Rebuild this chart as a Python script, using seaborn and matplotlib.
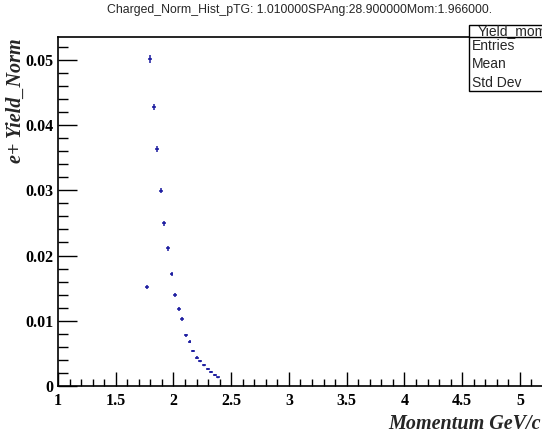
import numpy as np
import pandas as pd
import matplotlib
matplotlib.use("Agg")
import matplotlib.pyplot as plt
import seaborn as sns
from matplotlib.ticker import MultipleLocator
from matplotlib.patches import Rectangle
from matplotlib.lines import Line2D

# --- data ---
momentum = [1.768, 1.797, 1.829, 1.860, 1.892, 1.920, 1.952, 1.984, 2.016, 2.048,
            2.076, 2.108, 2.140, 2.169, 2.201, 2.232, 2.264, 2.296, 2.325, 2.357, 2.385]
yield_norm = [0.01514, 0.05015, 0.04279, 0.03630, 0.02995, 0.02495, 0.02112, 0.01718,
              0.01400, 0.01186, 0.01032, 0.00778, 0.00679, 0.00537, 0.00434, 0.00379,
              0.00317, 0.00261, 0.00215, 0.00169, 0.00133]
yield_err = [0.00030, 0.00065, 0.00050, 0.00045, 0.00042, 0.00040, 0.00038, 0.00035,
             0.00033, 0.00031, 0.00029, 0.00025, 0.00023, 0.00021, 0.00019, 0.00017,
             0.00016, 0.00014, 0.00013, 0.00012, 0.00010]
bin_half = 0.016

title_text = "Charged_Norm_Hist_pTG: 1.010000SPAng:28.900000Mom:1.966000."
stats_name = "Yield_mom"
stats_rows = ["Entries", "Mean", "Std Dev"]

df = pd.DataFrame({"mom": momentum, "y": yield_norm, "err": yield_err})

sns.set_style("white")
plt.rcParams["font.family"] = ["Liberation Serif", "DejaVu Serif"]

fig = plt.figure(figsize=(5.42, 4.37), dpi=100)
ax = fig.add_axes([58 / 542, 1 - 386 / 437, 485 / 542, (386 - 37) / 437])

col = "#1c1ca0"
ax.errorbar(df["mom"], df["y"], xerr=bin_half, yerr=df["err"], fmt="none",
            ecolor=col, elinewidth=1.1, capsize=0)
sns.scatterplot(data=df, x="mom", y="y", ax=ax, color=col, s=2, marker="o",
                edgecolor="none", legend=False)

ax.set_xlim(1, 5.2)
ax.set_ylim(0, 0.0535)
ax.xaxis.set_minor_locator(MultipleLocator(0.1))
ax.yaxis.set_minor_locator(MultipleLocator(0.002))
ax.tick_params(which="both", direction="in", bottom=True, left=True,
               top=False, right=False, colors="black")
ax.tick_params(axis="x", which="major", length=10, width=1, pad=5)
ax.tick_params(axis="x", which="minor", length=5, width=1)
ax.tick_params(axis="y", which="major", length=14, width=1, pad=3)
ax.tick_params(axis="y", which="minor", length=7, width=1)

ax.set_xticks([1, 1.5, 2, 2.5, 3, 3.5, 4, 4.5, 5])
ax.set_xticklabels(["1", "1.5", "2", "2.5", "3", "3.5", "4", "4.5", "5"])
ax.set_yticks([0, 0.01, 0.02, 0.03, 0.04, 0.05])
ax.set_yticklabels(["0", "0.01", "0.02", "0.03", "0.04", "0.05"])
for lab in ax.get_xticklabels() + ax.get_yticklabels():
    lab.set_fontweight("bold")
    lab.set_fontsize(11.5)

for sp in ax.spines.values():
    sp.set_color("black")
    sp.set_linewidth(1.2)

ax.set_xlabel("")
ax.set_ylabel("")
fig.text(541 / 542, 1 - 424 / 437, "Momentum GeV/c", ha="right", va="center",
         fontsize=14.5, fontweight="bold", fontstyle="italic")
fig.text(16 / 542, 1 - 38 / 437, "e+ Yield_Norm", ha="center", va="top", rotation=90,
         fontsize=14.5, fontweight="bold", fontstyle="italic")

fig.text(300 / 542, 1 - 10 / 437, title_text, ha="center", va="center",
         fontsize=8.8, family=["Liberation Sans", "DejaVu Sans"])

# stats box, running off the right edge like the reference
bx0, bx1 = 469 / 542, 600 / 542
by0, by1 = 1 - 91 / 437, 1 - 25 / 437
fig.patches.append(Rectangle((bx0, by0), bx1 - bx0, by1 - by0, transform=fig.transFigure,
                             facecolor="white", edgecolor="black", linewidth=1.0, zorder=5))
fig.lines.append(Line2D([bx0, bx1], [1 - 37 / 437] * 2, transform=fig.transFigure,
                        color="black", linewidth=1.0, zorder=6))
fig.text(478 / 542, 1 - 31 / 437, stats_name, ha="left", va="center", fontsize=10,
         family=["Liberation Sans", "DejaVu Sans"], zorder=7)
for i, row in enumerate(stats_rows):
    fig.text(472 / 542, 1 - (46 + 18.5 * i) / 437, row, ha="left", va="center",
             fontsize=10, family=["Liberation Sans", "DejaVu Sans"], zorder=7)

fig.savefig("out.png", dpi=100)
